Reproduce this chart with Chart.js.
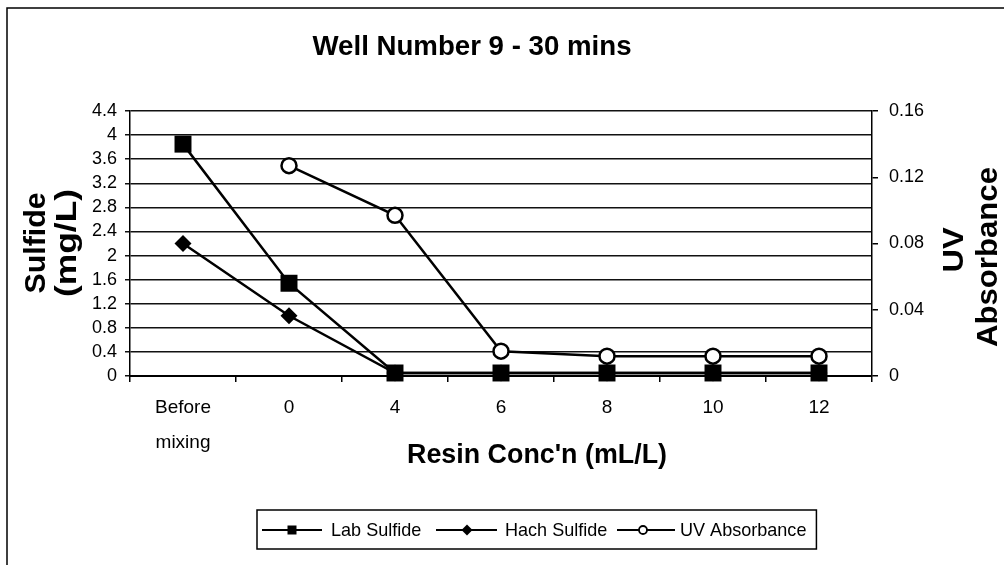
<!DOCTYPE html>
<html>
<head>
<meta charset="utf-8">
<script src="https://cdn.jsdelivr.net/npm/chart.js@4.4.0/dist/chart.umd.min.js"></script>
<style>
  html, body { margin: 0; padding: 0; background: #fff; }
  canvas { display: block; }
</style>
</head>
<body>
<canvas id="chart" width="1004" height="565"></canvas>
<script>
const categories = [['Before', 'mixing'], '0', '4', '6', '8', '10', '12'];
const labSulfide = [3.85, 1.54, 0.05, 0.05, 0.05, 0.05, 0.05];
const hachSulfide = [2.2, 1.0, 0.05, 0.05, 0.05, 0.05, 0.05];
const uvAbsorbance = [null, 0.127, 0.097, 0.015, 0.012, 0.012, 0.012];
const sulfideTicks = ['0', '0.4', '0.8', '1.2', '1.6', '2', '2.4', '2.8', '3.2', '3.6', '4', '4.4'];
const uvTicks = ['0', '0.04', '0.08', '0.12', '0.16'];

const FONT = '"Liberation Sans", Arial, sans-serif';

function tickLabel(list, v) {
  const t = list.find(s => Math.abs(parseFloat(s) - v) < 1e-6);
  return t === undefined ? '' : t;
}

// text squeezed to the width it has in the scan
function drawText(ctx, text, x, y, size, weight, width, rot) {
  ctx.save();
  ctx.translate(x, y);
  if (rot) ctx.rotate(rot);
  ctx.font = `${weight} ${size}px ${FONT}`;
  const w = ctx.measureText(text).width;
  if (width) ctx.scale(width / w, 1);
  ctx.textAlign = 'center';
  ctx.textBaseline = 'alphabetic';
  ctx.fillStyle = '#000';
  ctx.fillText(text, 0, 0);
  ctx.restore();
}

function marker(ctx, style, x, y) {
  ctx.beginPath();
  if (style === 'rect') {
    ctx.rect(x - 4.5, y - 4.5, 9, 9);
    ctx.fill();
  } else if (style === 'rectRot') {
    ctx.moveTo(x - 5.5, y); ctx.lineTo(x, y - 5.5); ctx.lineTo(x + 5.5, y); ctx.lineTo(x, y + 5.5);
    ctx.closePath();
    ctx.fill();
  } else {
    ctx.arc(x, y, 4, 0, Math.PI * 2);
    ctx.fillStyle = '#fff';
    ctx.fill();
    ctx.stroke();
    ctx.fillStyle = '#000';
  }
}

const decorations = {
  id: 'decorations',
  afterDraw(chart) {
    const ctx = chart.ctx;
    ctx.save();
    ctx.strokeStyle = '#000';
    ctx.fillStyle = '#000';

    // frame of the scanned page (only top and left survive)
    ctx.lineWidth = 1.5;
    ctx.beginPath();
    ctx.moveTo(1004, 8); ctx.lineTo(7, 8); ctx.lineTo(7, 565);
    ctx.stroke();

    drawText(ctx, 'Well Number 9 - 30 mins', 472, 55, 28, 'bold', 319);
    drawText(ctx, 'Sulfide', 45, 243, 30, 'bold', 101, -Math.PI / 2);
    drawText(ctx, '(mg/L)', 76, 243, 30, 'bold', 108, -Math.PI / 2);
    drawText(ctx, 'UV', 963, 250, 30, 'bold', 45, -Math.PI / 2);
    drawText(ctx, 'Absorbance', 997, 257, 30, 'bold', 180, -Math.PI / 2);
    drawText(ctx, "Resin Conc'n (mL/L)", 537, 463, 27, 'bold', 260);

    // legend
    const ly = 530;
    const items = [
      { x0: 262, x1: 322, mx: 292, tx: 331 },
      { x0: 436, x1: 497, mx: 467, tx: 505 },
      { x0: 617, x1: 675, mx: 643, tx: 680 }
    ];
    ctx.font = `19px ${FONT}`;
    let right = 0;
    chart.data.datasets.forEach((ds, i) => {
      const it = items[i];
      ctx.lineWidth = 2;
      ctx.beginPath();
      ctx.moveTo(it.x0, ly); ctx.lineTo(it.x1, ly);
      ctx.stroke();
      ctx.lineWidth = 1.8;
      marker(ctx, ds.pointStyle, it.mx, ly);
      ctx.save();
      ctx.translate(it.tx, ly);
      ctx.scale(0.95, 1);
      ctx.textAlign = 'left';
      ctx.textBaseline = 'middle';
      ctx.fillText(ds.label, 0, 1);
      ctx.restore();
      right = it.tx + ctx.measureText(ds.label).width * 0.95;
    });
    ctx.lineWidth = 1.5;
    ctx.strokeRect(257, 510, right + 10 - 257, 39);
    ctx.restore();
  }
};

new Chart(document.getElementById('chart'), {
  type: 'line',
  data: {
    labels: categories,
    datasets: [
      {
        label: 'Lab Sulfide',
        data: labSulfide,
        yAxisID: 'y',
        borderColor: '#000',
        backgroundColor: '#000',
        borderWidth: 2.5,
        pointStyle: 'rect',
        pointRadius: 12,
        pointBorderWidth: 0,
        clip: false
      },
      {
        label: 'Hach Sulfide',
        data: hachSulfide,
        yAxisID: 'y',
        borderColor: '#000',
        backgroundColor: '#000',
        borderWidth: 2.5,
        pointStyle: 'rectRot',
        pointRadius: 8.5,
        pointBorderWidth: 0,
        clip: false
      },
      {
        label: 'UV Absorbance',
        data: uvAbsorbance,
        yAxisID: 'y2',
        borderColor: '#000',
        backgroundColor: '#fff',
        borderWidth: 2.5,
        pointStyle: 'circle',
        pointRadius: 7.5,
        pointBackgroundColor: '#fff',
        pointBorderColor: '#000',
        pointBorderWidth: 2.5,
        clip: false
      }
    ]
  },
  options: {
    responsive: false,
    animation: false,
    layout: { padding: { top: 111, left: 0, right: 0, bottom: 0 } },
    plugins: {
      legend: { display: false },
      tooltip: { enabled: false }
    },
    scales: {
      x: {
        offset: true,
        grid: { offset: true, drawOnChartArea: false, drawTicks: true, tickLength: 6, color: '#000', lineWidth: 1.5 },
        border: { color: '#000', width: 2 },
        ticks: {
          color: '#000',
          font: { family: FONT, size: 19, lineHeight: 1.8 },
          padding: 9,
          maxRotation: 0,
          autoSkip: false
        },
        afterFit(scale) { scale.height = 189; }
      },
      y: {
        position: 'left',
        min: 0,
        max: 4.4,
        ticks: {
          stepSize: 0.4,
          autoSkip: false,
          color: '#000',
          font: { family: FONT, size: 18 },
          padding: 8,
          callback: v => tickLabel(sulfideTicks, v)
        },
        grid: { color: '#111', lineWidth: 1.5, tickLength: 5 },
        border: { color: '#000', width: 1.5 },
        afterFit(scale) { scale.width = 130; }
      },
      y2: {
        position: 'right',
        min: 0,
        max: 0.16,
        ticks: {
          stepSize: 0.04,
          autoSkip: false,
          color: '#000',
          font: { family: FONT, size: 18 },
          padding: 11,
          callback: v => tickLabel(uvTicks, v)
        },
        grid: { drawOnChartArea: false, color: '#000', lineWidth: 1.5, tickLength: 6 },
        border: { color: '#000', width: 1.5 },
        afterFit(scale) { scale.width = 132; }
      }
    }
  },
  plugins: [decorations]
});
</script>
</body>
</html>
